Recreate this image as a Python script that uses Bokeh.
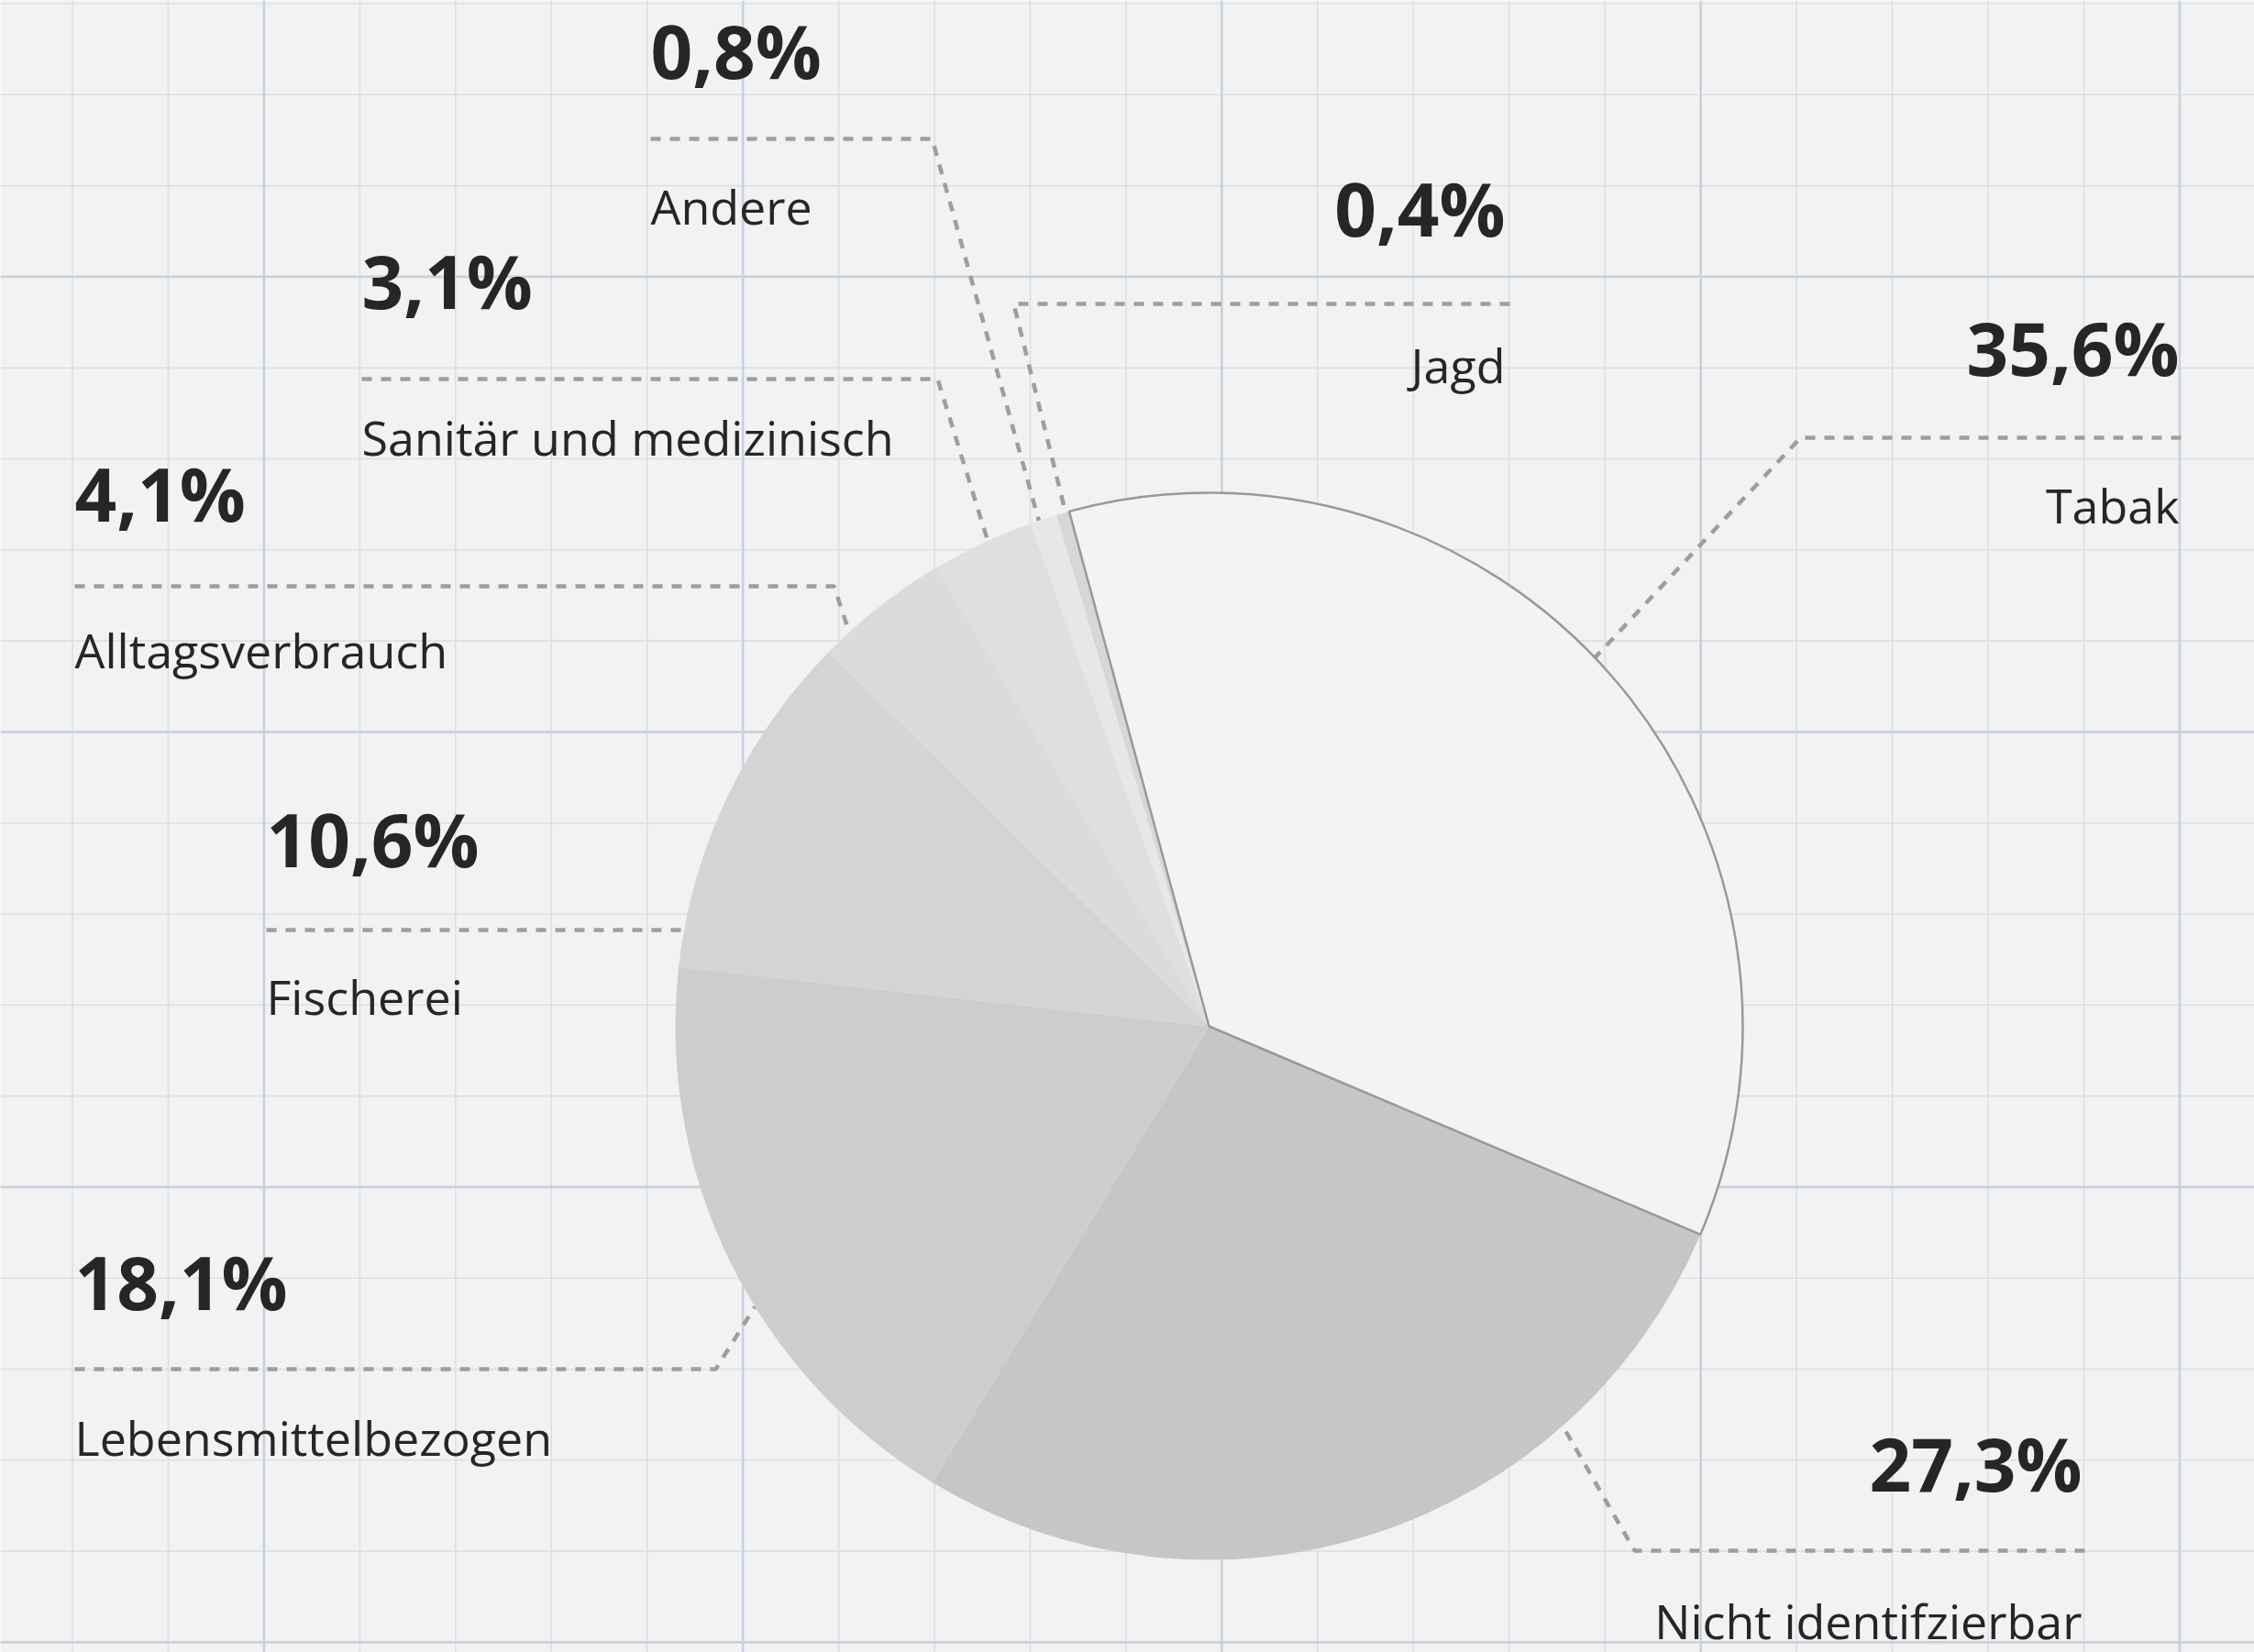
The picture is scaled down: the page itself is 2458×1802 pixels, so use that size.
import math
import numpy as np
from bokeh.plotting import figure
from bokeh.models import Range1d, ColumnDataSource
from bokeh.core.properties import value
from bokeh.embed import file_html
from bokeh.resources import INLINE

# ---------------- data ----------------
categories = ["Tabak", "Nicht identifzierbar", "Lebensmittelbezogen", "Fischerei",
              "Alltagsverbrauch", "Sanitär und medizinisch", "Andere", "Jagd"]
shares = [35.6, 27.3, 18.1, 10.6, 4.1, 3.1, 0.8, 0.4]
share_labels = ["35,6%", "27,3%", "18,1%", "10,6%", "4,1%", "3,1%", "0,8%", "0,4%"]

# ---------------- styling / layout ----------------
W, H = 2458, 1802
BG = "#f2f2f2"
slice_colors = ["#f3f3f3", "#c6c6c6", "#cdcdcd", "#d4d4d4", "#dbdbdb", "#dfdfdf", "#e7e7e7", "#d7d7d7"]
CX, CY_PX, R = 1318, 1119, 582
START_CW = 344.8  # degrees clockwise from 12 o'clock where the first slice starts
PCT_SIZE, NAME_SIZE = 80, 52
BASE_FIX = 0.42  # empirical baseline correction (fraction of font size)

def Y(ypx):
    return H - ypx

# label layout: align, text x, pct baseline, line y, name baseline, far x, bend x, leader end angle (cw from top)
label_layout = [
    ("right", 2376, 412, 477, 572, 2378, 1963, 46.3),
    ("right", 2270, 1629, 1691, 1789, 2273, 1782, 138.5),
    ("left", 81, 1431, 1493, 1589, 81, 780, 238.3),
    ("left", 290, 948, 1014, 1108, 290, None, 280.4),
    ("left", 81, 571, 639, 730, 81, 909, 317.6),
    ("left", 394, 339, 413, 498, 394, 1022, 335.5),
    ("left", 709, 88, 151, 246, 709, 1016, 341.4),
    ("right", 1641, 260, 331, 419, 1646, 1105, 344.4),
]

p = figure(width=W, height=H, output_backend="svg", toolbar_location=None,
           x_range=Range1d(0, W), y_range=Range1d(0, H),
           min_border=0, min_border_left=0, min_border_right=0,
           min_border_top=0, min_border_bottom=0,
           x_axis_location=None, y_axis_location=None)
p.background_fill_color = BG
p.border_fill_color = BG
p.outline_line_color = None
p.xgrid.visible = False
p.ygrid.visible = False

# ---------------- grid-paper background ----------------
vx = 78.5 + 104.45 * np.arange(23)
hy = 3.5 + 99.3 * np.arange(19)
v_major = [i for i in range(23) if i % 5 == 2]
h_major = [i for i in range(19) if i % 5 == 3]
vmin = [x for i, x in enumerate(vx) if i not in v_major]
vmaj = [x for i, x in enumerate(vx) if i in v_major]
hmin = [y for i, y in enumerate(hy) if i not in h_major]
hmaj = [y for i, y in enumerate(hy) if i in h_major]
p.segment(x0=vmin, y0=[0] * len(vmin), x1=vmin, y1=[H] * len(vmin), line_color="#dae0e7", line_width=1.6)
p.segment(x0=[0] * len(hmin), y0=[Y(y) for y in hmin], x1=[W] * len(hmin), y1=[Y(y) for y in hmin],
          line_color="#dae0e7", line_width=1.6)
p.segment(x0=vmaj, y0=[0] * len(vmaj), x1=vmaj, y1=[H] * len(vmaj), line_color="#c5d2df", line_width=2.6)
p.segment(x0=[0] * len(hmaj), y0=[Y(y) for y in hmaj], x1=[W] * len(hmaj), y1=[Y(y) for y in hmaj],
          line_color="#c5d2df", line_width=2.6)

# ---------------- leader lines ----------------
xs, ys = [], []
for (align, tx, pb, ly, nb, far, bend, ang) in label_layout:
    ex = CX + R * math.sin(math.radians(ang))
    ey = CY_PX - R * math.cos(math.radians(ang))
    if bend is None:
        xs.append([far, ex])
        ys.append([Y(ly), Y(ey)])
    else:
        xs.append([far, bend, ex])
        ys.append([Y(ly), Y(ly), Y(ey)])
p.multi_line(xs=xs, ys=ys, line_color="#9e9e9e", line_width=4.5, line_dash="11 10", line_cap="butt")

# ---------------- pie ----------------
total = sum(shares)
cum = np.concatenate([[0], np.cumsum(shares)])
start_cw = START_CW + 360.0 * cum[:-1] / total
end_cw = START_CW + 360.0 * cum[1:] / total
src = ColumnDataSource(dict(
    cat=categories, share=shares,
    start=[math.radians(90 - a) for a in start_cw],
    end=[math.radians(90 - a) for a in end_cw],
    color=slice_colors,
))
p.wedge(x=CX, y=Y(CY_PX), radius=R, start_angle="start", end_angle="end", direction="clock",
        fill_color="color", line_color=None, source=src)
# outline of the first (highlighted) slice
p.wedge(x=CX, y=Y(CY_PX), radius=R, start_angle=src.data["start"][0], end_angle=src.data["end"][0],
        direction="clock", fill_color=None, line_color="#999999", line_width=2.5)

# ---------------- labels ----------------
for i, (align, tx, pb, ly, nb, far, bend, ang) in enumerate(label_layout):
    p.text(x=[tx], y=[Y(pb - BASE_FIX * PCT_SIZE)], text=[share_labels[i]], text_align=align,
           text_baseline="alphabetic",
           text_font=value("Open Sans"), text_font_style="bold", text_font_size=value(f"{PCT_SIZE}px"),
           text_color="#262626")
    p.text(x=[tx], y=[Y(nb - BASE_FIX * NAME_SIZE)], text=[categories[i]], text_align=align,
           text_baseline="alphabetic",
           text_font=value("Open Sans"), text_font_size=value(f"{NAME_SIZE}px"), text_color="#262626")

open("out.html", "w").write(file_html(p, INLINE))
